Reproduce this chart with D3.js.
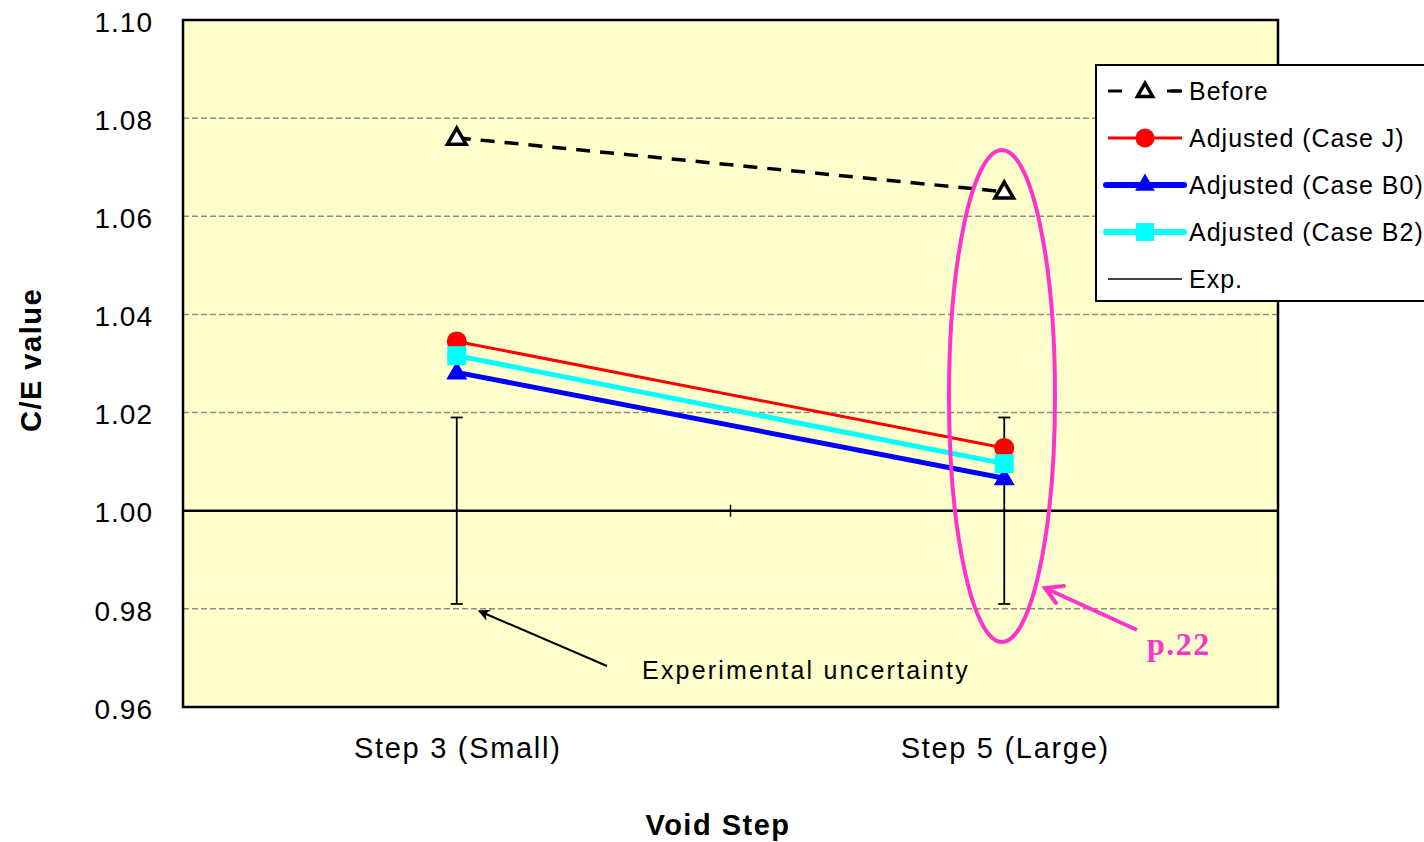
<!DOCTYPE html>
<html><head><meta charset="utf-8">
<script src="https://cdn.jsdelivr.net/npm/d3@7"></script>
<style>body{margin:0;background:#fff}svg{display:block;font-family:Arial,"Liberation Sans",sans-serif}</style>
</head><body><svg id="c" width="1424" height="842"></svg>
<script>
const categories = ["Step 3 (Small)", "Step 5 (Large)"];
const before = [1.076, 1.065];
const caseJ = [1.0345, 1.0128];
const caseB0 = [1.0282, 1.0066];
const caseB2 = [1.0316, 1.0096];
const expVal = [1.0, 1.0];
const expErr = [0.019, 0.019];
const yTicks = [0.96, 0.98, 1.00, 1.02, 1.04, 1.06, 1.08, 1.10];
const legendLabels = ["Before", "Adjusted (Case J)", "Adjusted (Case B0)", "Adjusted (Case B2)", "Exp."];

const svg = d3.select("#c");
const L = 183, R = 1278, T = 20, B = 707;
const x = d3.scaleBand().domain(categories).range([L, R]);
const y = d3.scaleLinear().domain([0.96, 1.10]).range([B, T]);
const cx = c => x(c) + x.bandwidth() / 2;

// plot background
svg.append("rect").attr("x", L).attr("y", T).attr("width", R - L).attr("height", B - T).attr("fill", "#FFFFCC");
svg.append("line").attr("x1", L).attr("x2", R).attr("y1", 578).attr("y2", 578).attr("stroke", "#fff").attr("stroke-width", 1);
// gridlines
svg.append("g").selectAll("line").data(yTicks.filter(v => v > 0.96 && v < 1.10 && v !== 1.0)).join("line")
  .attr("x1", L).attr("x2", R).attr("y1", d => y(d)).attr("y2", d => y(d))
  .attr("stroke", "#8c8c8c").attr("stroke-width", 1.5).attr("stroke-dasharray", "6,3");

// y axis labels
const yAxis = d3.axisLeft(y).tickValues(yTicks).tickFormat(d3.format(".2f")).tickSize(0).tickPadding(30);
const yg = svg.append("g").attr("transform", `translate(${L},0)`).call(yAxis);
yg.select(".domain").remove();
yg.selectAll("text").attr("font-size", 28).attr("letter-spacing", 1).attr("fill", "#000")
  .attr("font-family", "Arial, 'Liberation Sans', sans-serif").attr("dy", "0.4em");

// x axis drawn at 1.00 (tick between categories)
svg.append("line").attr("x1", L).attr("x2", R).attr("y1", y(1.0)).attr("y2", y(1.0)).attr("stroke", "#000").attr("stroke-width", 2.5);
svg.append("line").attr("x1", x(categories[1])).attr("x2", x(categories[1])).attr("y1", y(1.0) - 6).attr("y2", y(1.0) + 6).attr("stroke", "#000").attr("stroke-width", 1.5);

// category labels
svg.append("g").selectAll("text").data(categories).join("text")
  .attr("x", d => cx(d) + 1).attr("y", 758).attr("text-anchor", "middle").attr("font-size", 29)
  .attr("letter-spacing", 1.7).text(d => d);

// axis titles
svg.append("text").attr("transform", "translate(41,360) rotate(-90)").attr("text-anchor", "middle")
  .attr("font-size", 29).attr("letter-spacing", 1.5).attr("font-weight", "bold").text("C/E value");
svg.append("text").attr("x", 718).attr("y", 835).attr("text-anchor", "middle")
  .attr("font-size", 29).attr("letter-spacing", 1.5).attr("font-weight", "bold").text("Void Step");

// error bars (Exp.)
const eg = svg.append("g").attr("stroke", "#000").attr("stroke-width", 1.8);
categories.forEach((c, i) => {
  eg.append("line").attr("x1", cx(c)).attr("x2", cx(c)).attr("y1", y(expVal[i] + expErr[i])).attr("y2", y(expVal[i] - expErr[i]));
  [expErr[i], -expErr[i]].forEach(e => eg.append("line").attr("x1", cx(c) - 6).attr("x2", cx(c) + 6)
    .attr("y1", y(expVal[i] + e)).attr("y2", y(expVal[i] + e)));
});

const line = d3.line().x((d, i) => cx(categories[i])).y(d => y(d));
const tri = d3.symbol().type(d3.symbolTriangle);
const sq = d3.symbol().type(d3.symbolSquare);

function drawSeries(vals, color, width, dash) {
  svg.append("path").datum(vals).attr("d", line).attr("fill", "none").attr("stroke", color)
    .attr("stroke-width", width).attr("stroke-dasharray", dash || null);
}
drawSeries(before, "#000", 3.5, "14,10");
drawSeries(caseJ, "#FF0000", 3);
drawSeries(caseB2, "#00FFFF", 5);
drawSeries(caseB0, "#0000FF", 5);

// markers
svg.append("g").selectAll("path").data(caseB0).join("path")
  .attr("transform", (d, i) => `translate(${cx(categories[i])},${y(d) + 1})`).attr("d", tri.size(190)).attr("fill", "#0000FF");
svg.append("g").selectAll("circle").data(caseJ).join("circle")
  .attr("cx", (d, i) => cx(categories[i])).attr("cy", d => y(d)).attr("r", 10).attr("fill", "#FF0000");
svg.append("g").selectAll("path").data(caseB2).join("path")
  .attr("transform", (d, i) => `translate(${cx(categories[i])},${y(d)})`).attr("d", sq.size(360)).attr("fill", "#00FFFF");
svg.append("g").selectAll("path").data(before).join("path")
  .attr("transform", (d, i) => `translate(${cx(categories[i])},${y(d) + 1})`).attr("d", tri.size(150))
  .attr("fill", "#fff").attr("stroke", "#000").attr("stroke-width", 3.5).attr("stroke-linejoin", "miter");

// plot border
svg.append("rect").attr("x", L).attr("y", T).attr("width", R - L).attr("height", B - T)
  .attr("fill", "none").attr("stroke", "#000").attr("stroke-width", 2.5);

// annotation: experimental uncertainty
svg.append("defs").html(`<marker id="ah" viewBox="0 0 10 10" refX="9" refY="5" markerWidth="6" markerHeight="6" orient="auto"><path d="M0,0 L10,5 L0,10 L3,5 z" fill="#000"/></marker>`);
svg.append("line").attr("x1", 607).attr("y1", 666).attr("x2", 479).attr("y2", 611)
  .attr("stroke", "#000").attr("stroke-width", 2).attr("marker-end", "url(#ah)");
svg.append("text").attr("x", 806).attr("y", 679).attr("text-anchor", "middle").attr("font-size", 25)
  .attr("letter-spacing", 2.2).text("Experimental uncertainty");

// magenta ellipse + arrow + p.22
const mag = "#FF33CC";
svg.append("ellipse").attr("cx", 1002).attr("cy", 396).attr("rx", 53).attr("ry", 246)
  .attr("fill", "none").attr("stroke", mag).attr("stroke-width", 4);
svg.append("line").attr("x1", 1137).attr("y1", 630).attr("x2", 1045).attr("y2", 588).attr("stroke", mag).attr("stroke-width", 4);
svg.append("path").attr("d", "M1064,586 L1045,588 L1056,603").attr("fill", "none").attr("stroke", mag).attr("stroke-width", 4).attr("stroke-linecap", "round");
svg.append("text").attr("x", 1147).attr("y", 655).attr("font-family", "'Liberation Serif','Times New Roman',serif")
  .attr("font-size", 32).attr("letter-spacing", 1.5).attr("font-weight", "bold").attr("fill", mag).text("p.22");

// legend
const lg = svg.append("g");
lg.append("rect").attr("x", 1096).attr("y", 65).attr("width", 340).attr("height", 236).attr("fill", "#fff").attr("stroke", "#000").attr("stroke-width", 2);
const ly = [91, 138, 185, 232, 279];
const lx1 = 1108, lx2 = 1182, lmid = 1145;
// Before
lg.append("line").attr("x1", lx1).attr("x2", lx2).attr("y1", ly[0]).attr("y2", ly[0]).attr("stroke", "#000").attr("stroke-width", 3).attr("stroke-dasharray", "14,48");
lg.append("line").attr("x1", lx1).attr("x2", lx2).attr("y1", ly[0]).attr("y2", ly[0]).attr("stroke", "#000").attr("stroke-width", 3).attr("stroke-dasharray", "0,59,14,1");
lg.append("path").attr("transform", `translate(${lmid},${ly[0] + 1})`).attr("d", tri.size(100)).attr("fill", "#fff").attr("stroke", "#000").attr("stroke-width", 3.5);
// J
lg.append("line").attr("x1", lx1).attr("x2", lx2).attr("y1", ly[1]).attr("y2", ly[1]).attr("stroke", "#FF0000").attr("stroke-width", 3);
lg.append("circle").attr("cx", lmid).attr("cy", ly[1]).attr("r", 9.5).attr("fill", "#FF0000");
// B0
lg.append("line").attr("x1", lx1 - 2).attr("x2", lx2 + 2).attr("y1", ly[2]).attr("y2", ly[2]).attr("stroke", "#0000FF").attr("stroke-width", 6).attr("stroke-linecap", "round");
lg.append("path").attr("transform", `translate(${lmid},${ly[2]})`).attr("d", tri.size(170)).attr("fill", "#0000FF");
// B2
lg.append("line").attr("x1", lx1 - 2).attr("x2", lx2 + 2).attr("y1", ly[3]).attr("y2", ly[3]).attr("stroke", "#00FFFF").attr("stroke-width", 6).attr("stroke-linecap", "round");
lg.append("path").attr("transform", `translate(${lmid},${ly[3]})`).attr("d", sq.size(320)).attr("fill", "#00FFFF");
// Exp
lg.append("line").attr("x1", lx1).attr("x2", lx2).attr("y1", ly[4]).attr("y2", ly[4]).attr("stroke", "#000").attr("stroke-width", 1.5);
lg.selectAll("text").data(legendLabels).join("text").attr("x", 1189).attr("y", (d, i) => ly[i] + 9)
  .attr("font-size", 25).attr("letter-spacing", 1).text(d => d);
</script></body></html>
